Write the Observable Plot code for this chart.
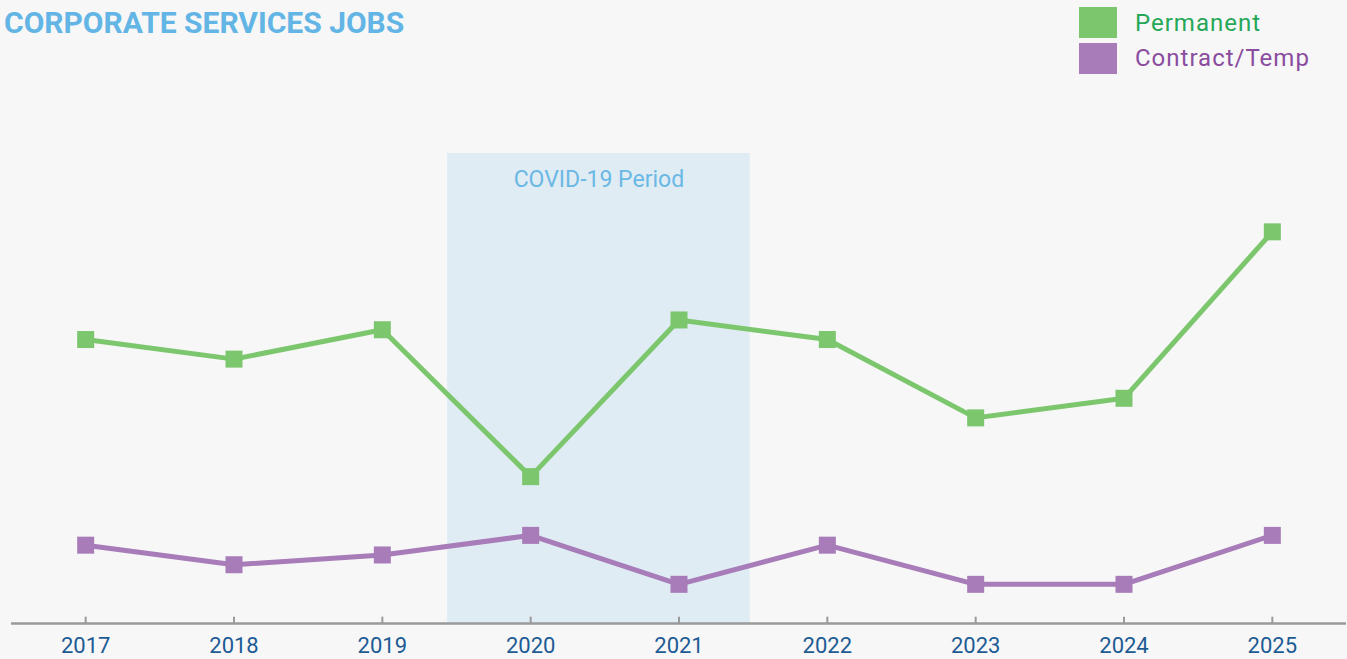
<!DOCTYPE html>
<html><head><meta charset="utf-8">
<script src="https://cdn.jsdelivr.net/npm/d3@7"></script>
<script src="https://cdn.jsdelivr.net/npm/@observablehq/plot@0.6"></script>
<style>
html,body{margin:0;padding:0;background:#f7f7f7;}
#wrap{position:relative;width:1347px;height:659px;overflow:hidden;font-family:Roboto,"Noto Sans",sans-serif;background:#f7f7f7;}
#chart{position:absolute;left:0;top:0;}
#title{position:absolute;left:4px;top:7px;line-height:32px;font-size:30px;font-weight:700;color:#62b5e5;white-space:nowrap;}
.sw{position:absolute;left:1079px;width:38px;height:31px;}
.lt{position:absolute;left:1135px;font-size:24px;letter-spacing:1px;line-height:30px;white-space:nowrap;}
</style></head><body>
<div id="wrap">
<div id="chart"></div>
<div id="title">CORPORATE SERVICES JOBS</div>
<div id="legend"></div>
</div>
<script>
const years = [2017, 2018, 2019, 2020, 2021, 2022, 2023, 2024, 2025];
const permanent = [29, 27, 30, 15, 31, 29, 21, 23, 40];
const contract = [8, 6, 7, 9, 4, 8, 4, 4, 9];
const seriesNames = ["Permanent", "Contract/Temp"];
const covidLabel = "COVID-19 Period";
const covidSpan = [2019.44, 2021.48];
const covidTop = 48;

const lineColors = ["#7cc76e", "#a77cb9"];
const textColors = ["#25a757", "#8a4c9f"];

const rows = [];
[permanent, contract].forEach((vals, s) => {
  vals.forEach((v, i) => rows.push({year: years[i], value: v, series: seriesNames[s]}));
});

const chart = Plot.plot({
  width: 1347,
  height: 659,
  marginTop: 153,
  marginBottom: 36,
  marginLeft: 11,
  marginRight: 1,
  style: {background: "transparent", fontFamily: "Roboto, 'Noto Sans', sans-serif"},
  x: {domain: [2016.5, 2025.5]},
  y: {domain: [0, covidTop], axis: null},
  color: {domain: seriesNames, range: lineColors},
  marks: [
    Plot.rect([covidSpan], {x1: d => d[0], x2: d => d[1], y1: 0, y2: covidTop, fill: "#e0ecf4"}),
    Plot.text([covidLabel], {x: (covidSpan[0] + covidSpan[1]) / 2, y: covidTop, dy: 26, text: d => d, fill: "#6ab8e4", fontSize: 23}),
    Plot.ruleY([0], {stroke: "#9a9a9a", strokeWidth: 2.5}),
    Plot.ruleX(years, {x: d => d, y1: 0, y2: 0.65, stroke: "#9a9a9a", strokeWidth: 2}),
    Plot.axisX({ticks: years, tickFormat: d => String(d), tickSize: 0, tickPadding: 14, fontSize: 22, fill: "#1d5b94", label: null}),
    Plot.line(rows, {x: "year", y: "value", z: "series", stroke: "series", strokeWidth: 5}),
    Plot.dot(rows, {x: "year", y: "value", fill: "series", symbol: "square", r: 9.6})
  ]
});
document.getElementById("chart").appendChild(chart);

const legend = document.getElementById("legend");
seriesNames.forEach((name, i) => {
  const sw = document.createElement("div");
  sw.className = "sw";
  sw.style.top = (7 + i * 36) + "px";
  sw.style.background = lineColors[i];
  legend.appendChild(sw);
  const t = document.createElement("div");
  t.className = "lt";
  t.style.top = (8 + i * 35) + "px";
  t.style.color = textColors[i];
  t.textContent = name;
  legend.appendChild(t);
});
</script>
</body></html>
